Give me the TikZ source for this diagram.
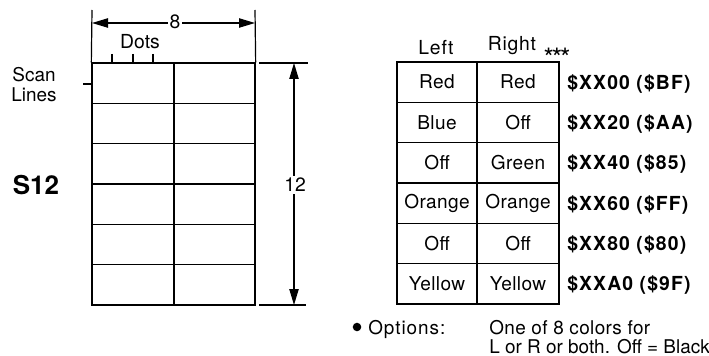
\documentclass[tikz,border=0pt]{standalone}
\usepackage{fontspec}
\setmainfont{TeX Gyre Heros}
\usetikzlibrary{arrows.meta}
\tikzset{
  cellbox/.style={draw, line width=1pt, inner sep=0pt,
    font=\fontsize{14.3}{16}\selectfont\addfontfeature{LetterSpace=2}},
  lbl/.style={inner sep=1pt, font=\fontsize{14.5}{16}\selectfont},
  code/.style={anchor=base west, inner sep=0pt,
    font=\fontsize{14.5}{16}\selectfont\bfseries\addfontfeature{LetterSpace=6}},
  note/.style={anchor=base west, inner sep=0pt, font=\fontsize{14.2}{16}\selectfont},
  dimline/.style={line width=0.9pt},
  dimarrow/.style={line width=0.9pt, {Triangle[length=12pt,width=7pt]}-{Triangle[length=12pt,width=7pt]}},
}
\begin{document}
\begin{tikzpicture}[x=0.75pt,y=-0.75pt]
\useasboundingbox (0,0) rectangle (709,356);

% 8 x 12 character cell: two columns of six rows
\foreach \r in {1,...,6}{
  \pgfmathsetmacro\yc{63+(\r-0.5)*40.33}
  \node[cellbox, minimum width=61.5pt, minimum height=30.25pt] (gl\r) at (133,\yc) {};
  \node[cellbox, minimum width=60.75pt, minimum height=30.25pt] (gr\r) at (214.5,\yc) {};
}

% width dimension (8 dots)
\coordinate (wl0) at (92,10);
\coordinate (wr0) at (255,10);
\draw[dimline] (wl0) -- (gl1.north west);
\draw[dimline] (wr0) -- (gr1.north east);
\coordinate (wl) at (92,23);
\coordinate (wr) at (255,23);
\draw[dimarrow] (wl) -- (wr);
\node[lbl, fill=white, inner sep=1.5pt] (eight) at (175,22) {8};
\node[lbl] (dots) at (140,42) {Dots};
\foreach \x in {112,133,153}{
  \draw[dimline] (\x,54) -- (\x,63);
}

% scan line marker and labels
\coordinate (tk1) at (83,84);
\coordinate (tk2) at (91,84);
\draw[dimline] (tk1) -- (tk2);
\node[note, anchor=base] (scan) at (34,82) {Scan};
\node[note, anchor=base] (lines) at (34,102) {Lines};
\node[inner sep=0pt, font=\fontsize{19.5}{20}\selectfont\bfseries] (s12) at (36,185) {S12};

% height dimension (12 scan lines)
\coordinate (ht1) at (259,63);
\coordinate (ht2) at (308,63);
\coordinate (hb1) at (259,305);
\coordinate (hb2) at (306,305);
\draw[dimline] (ht1) -- (ht2);
\draw[dimline] (hb1) -- (hb2);
\coordinate (ha) at (294,63);
\coordinate (hb) at (294,305);
\draw[dimarrow] (ha) -- (hb);
\node[lbl, fill=white, inner sep=1.5pt] (twelve) at (295,185) {12};

% colour table
\node[lbl, font=\fontsize{14.5}{16}\selectfont\addfontfeature{LetterSpace=4}] (hleft) at (436,48) {Left};
\node[lbl, font=\fontsize{14.5}{16}\selectfont\addfontfeature{LetterSpace=4}] (hright) at (512,46) {Right};
\node[lbl, font=\fontsize{20}{20}\selectfont\addfontfeature{LetterSpace=-8}] (stars) at (557,58) {***};
\foreach \r/\a/\b/\c in {1/Red/Red/{\$XX00 (\$BF)},
                         2/Blue/Off/{\$XX20 (\$AA)},
                         3/Off/Green/{\$XX40 (\$85)},
                         4/Orange/Orange/{\$XX60 (\$FF)},
                         5/Off/Off/{\$XX80 (\$80)},
                         6/Yellow/Yellow/{\$XXA0 (\$9F)}}{
  \pgfmathsetmacro\yc{62+(\r-0.5)*40.33}
  \node[cellbox, minimum width=60pt, minimum height=30.25pt] (tl\r) at (437,\yc) {\a};
  \node[cellbox, minimum width=61.5pt, minimum height=30.25pt] (tr\r) at (518,\yc) {\b};
  \node[code] (c\r) at (567,\yc+7) {\c};
}

% options note
\fill (357,327) circle (3.2pt);
\node[note, font=\fontsize{14.2}{16}\selectfont\addfontfeature{LetterSpace=5}] (opt) at (368,334) {Options:};
\node[note, font=\fontsize{14.2}{16}\selectfont\addfontfeature{LetterSpace=2}] (opt1) at (489,334) {One of 8 colors for};
\node[note] (opt2) at (489,353) {L or R or both. Off = Black};
\end{tikzpicture}
\end{document}
